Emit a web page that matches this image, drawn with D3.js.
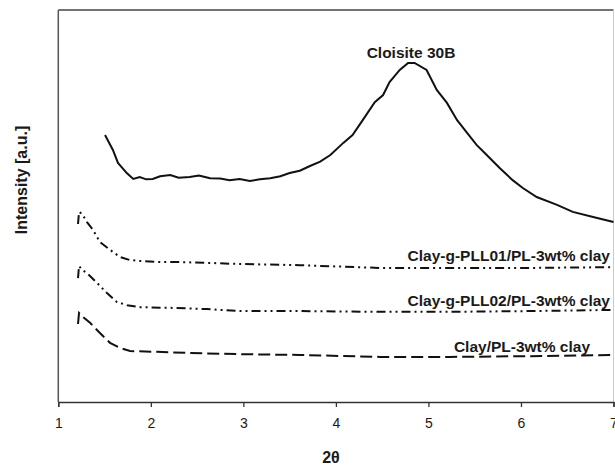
<!DOCTYPE html>
<html>
<head>
<meta charset="utf-8">
<script src="https://d3js.org/d3.v7.min.js"></script>
<style type="text/css">
  body { margin: 0; background: #fff; }
  svg text { font-family: "Liberation Sans", Arial, sans-serif; fill: #1a1a1a; }
</style>
</head>
<body>
<svg id="chart" width="615" height="465"></svg>
<script>
// 2theta values and intensity (a.u.)
var cloisiteX = [1.505, 1.59, 1.645, 1.74, 1.81, 1.88, 1.95, 2.02, 2.1, 2.21, 2.3, 2.42, 2.52, 2.64, 2.75, 2.85, 2.96, 3.07, 3.18, 3.29, 3.4, 3.5, 3.61, 3.72, 3.83, 3.94, 4.08, 4.18, 4.29, 4.42, 4.51, 4.58, 4.69, 4.78, 4.85, 4.98, 5.09, 5.2, 5.31, 5.42, 5.52, 5.63, 5.77, 5.91, 6.02, 6.17, 6.39, 6.56, 6.78, 7.0];
var cloisiteY = [68.1, 64.3, 61.0, 58.4, 56.9, 57.4, 56.8, 56.9, 57.6, 57.9, 57.2, 57.4, 57.8, 57.1, 57.0, 56.6, 56.9, 56.4, 56.8, 57.1, 57.6, 58.4, 59.0, 60.2, 61.3, 63.0, 66.1, 68.1, 71.9, 76.5, 78.3, 81.6, 84.7, 86.5, 86.5, 84.7, 79.6, 76.3, 71.9, 68.6, 65.6, 63.0, 59.7, 56.6, 54.6, 52.3, 50.3, 48.5, 47.2, 45.9];

var pll01X = [1.213, 1.224, 1.256, 1.31, 1.375, 1.45, 1.56, 1.667, 1.775, 1.88, 2.066, 2.315, 2.607, 2.963, 3.61, 4.476, 5.23, 6.1, 7.0];
var pll01Y = [45.4, 48.5, 48.0, 45.9, 43.9, 40.8, 38.8, 37.0, 36.2, 36.0, 35.7, 35.7, 35.5, 35.2, 34.9, 34.2, 34.2, 34.2, 34.4];

var pll02X = [1.213, 1.224, 1.256, 1.31, 1.418, 1.526, 1.634, 1.742, 1.883, 2.239, 2.607, 2.963, 3.61, 4.476, 5.23, 6.1, 7.0];
var pll02Y = [31.6, 34.7, 33.7, 32.9, 30.4, 27.8, 25.5, 24.7, 24.2, 24.0, 23.7, 23.2, 23.2, 23.0, 23.0, 23.2, 23.5];

var clayX = [1.213, 1.224, 1.267, 1.343, 1.45, 1.559, 1.667, 1.775, 2.066, 2.423, 2.963, 3.61, 4.476, 5.23, 6.1, 7.0];
var clayY = [19.9, 22.7, 21.7, 20.2, 17.6, 15.1, 13.8, 13.0, 12.8, 12.5, 12.2, 12.0, 11.5, 11.5, 11.7, 12.0];

var xTicks = [1, 2, 3, 4, 5, 6, 7];
var seriesNames = ["Cloisite 30B", "Clay-g-PLL01/PL-3wt% clay", "Clay-g-PLL02/PL-3wt% clay", "Clay/PL-3wt% clay"];

var svg = d3.select("#chart");
var x = d3.scaleLinear().domain([1, 7]).range([58.3, 613.5]);
var y = d3.scaleLinear().domain([0, 100]).range([402, 10]);

// frame
svg.append("line").attr("x1", x(1)).attr("x2", x(7)).attr("y1", y(100)).attr("y2", y(100))
  .attr("stroke", "#444").attr("stroke-width", 1.5);
svg.append("line").attr("x1", x(7)).attr("x2", x(7)).attr("y1", y(100)).attr("y2", y(0))
  .attr("stroke", "#ccc").attr("stroke-width", 1);
svg.append("line").attr("x1", x(1)).attr("x2", x(1)).attr("y1", y(100)).attr("y2", y(0))
  .attr("stroke", "#555").attr("stroke-width", 1.5);

// x axis
var xAxis = svg.append("g").attr("transform", "translate(0," + y(0) + ")")
  .call(d3.axisBottom(x).tickValues(xTicks).tickFormat(d3.format("d")).tickSize(5).tickPadding(11));
xAxis.select(".domain").attr("stroke", "#333").attr("stroke-width", 1.3);
xAxis.selectAll(".tick line").attr("stroke", "#333").attr("stroke-width", 1.3);
xAxis.selectAll("text").attr("font-size", "14px").attr("font-family", "Liberation Sans, Arial, sans-serif").attr("fill", "#1a1a1a");

svg.append("text").attr("x", 331).attr("y", 463).attr("text-anchor", "middle")
  .attr("font-size", "16px").attr("font-weight", "bold").text("2θ");
svg.append("text").attr("transform", "translate(27,180) rotate(-90)").attr("text-anchor", "middle")
  .attr("font-size", "16px").attr("font-weight", "bold").text("Intensity [a.u.]");

var line = d3.line().x(d => x(d[0])).y(d => y(d[1]));
function pts(xs, ys) { return xs.map((v, i) => [v, ys[i]]); }

var curves = [
  { data: pts(cloisiteX, cloisiteY), dash: null },
  { data: pts(pll01X, pll01Y), dash: "9,4,2,4,2,4" },
  { data: pts(pll02X, pll02Y), dash: "9,4,2,4,2,4" },
  { data: pts(clayX, clayY), dash: "12,5" }
];
svg.selectAll("path.curve").data(curves).enter().append("path")
  .attr("class", "curve")
  .attr("d", d => line(d.data))
  .attr("fill", "none").attr("stroke", "#111").attr("stroke-width", 2)
  .attr("stroke-dasharray", d => d.dash);

// curve labels
var labels = [
  { t: seriesNames[0], x: 411, y: 58, anchor: "middle" },
  { t: seriesNames[1], x: 610, y: 261, anchor: "end" },
  { t: seriesNames[2], x: 610, y: 306, anchor: "end" },
  { t: seriesNames[3], x: 590, y: 352, anchor: "end" }
];
svg.selectAll("text.lbl").data(labels).enter().append("text")
  .attr("class", "lbl").attr("x", d => d.x).attr("y", d => d.y)
  .attr("text-anchor", d => d.anchor).attr("font-size", "15.5px").attr("font-weight", "bold")
  .text(d => d.t);
</script>
</body>
</html>
